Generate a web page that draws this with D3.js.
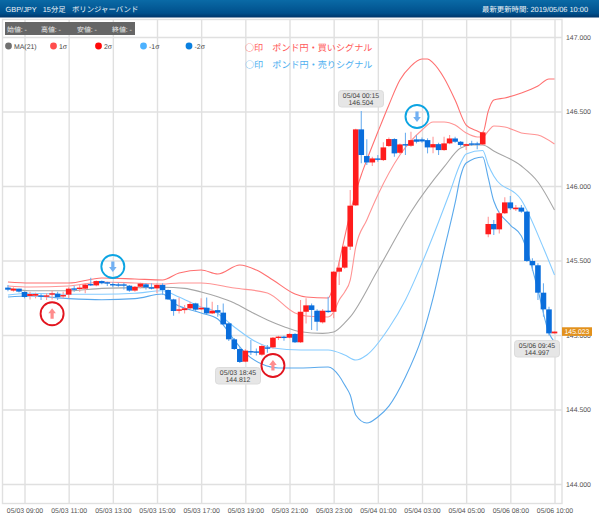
<!DOCTYPE html>
<html><head><meta charset="utf-8">
<style>html,body{margin:0;padding:0;background:#fff}svg{display:block;text-rendering:geometricPrecision}</style>
<script src="https://cdn.jsdelivr.net/npm/d3@7/dist/d3.min.js"></script>
</head><body><svg id="c" width="599" height="514"></svg>
<script>
const tickIndex=[3,11,19,27,35,43,51,59,67,75,83,91,99];
const tickLabels=["05/03 09:00","05/03 11:00","05/03 13:00","05/03 15:00","05/03 17:00","05/03 19:00","05/03 21:00","05/03 23:00","05/04 01:00","05/04 03:00","05/04 05:00","05/06 08:00","05/06 10:00"];
const priceTicks=[144,144.5,145,145.5,146,146.5,147];
const opens=[145.318,145.298,145.311,145.289,145.262,145.264,145.266,145.260,145.271,145.277,145.264,145.271,145.313,145.311,145.311,145.342,145.333,145.362,145.354,145.342,145.340,145.340,145.331,145.298,145.324,145.340,145.320,145.313,145.336,145.302,145.239,145.163,145.167,145.179,145.212,145.172,145.183,145.145,145.167,145.150,145.078,144.971,144.906,144.821,144.892,144.890,144.868,144.917,144.917,144.980,144.989,144.982,145.007,144.951,145.156,145.199,145.163,145.085,145.163,145.156,145.425,145.452,145.593,145.870,146.380,146.201,146.158,146.185,146.174,146.268,146.315,146.223,146.281,146.270,146.313,146.313,146.308,146.259,146.281,146.241,146.286,146.319,146.297,146.270,146.286,146.286,146.279,145.676,145.745,145.709,145.817,145.890,145.844,145.855,145.828,145.497,145.468,145.284,145.172,145.011];
const closes=[145.304,145.311,145.291,145.255,145.275,145.275,145.257,145.266,145.280,145.255,145.268,145.311,145.306,145.318,145.338,145.336,145.362,145.347,145.345,145.333,145.336,145.336,145.298,145.324,145.345,145.320,145.315,145.336,145.302,145.239,145.161,145.172,145.179,145.208,145.170,145.183,145.145,145.163,145.150,145.071,144.971,144.906,144.819,144.895,144.888,144.881,144.926,144.913,144.982,144.989,144.980,145.007,144.951,145.156,145.199,145.168,145.089,145.163,145.156,145.425,145.452,145.593,145.868,146.380,146.208,146.158,146.185,146.179,146.259,146.315,146.219,146.279,146.275,146.308,146.297,146.299,146.259,146.281,146.241,146.286,146.319,146.297,146.275,146.281,146.279,146.279,146.360,145.745,145.709,145.817,145.890,145.850,145.855,145.828,145.497,145.468,145.284,145.172,145.011,145.023];
const highs=[145.336,145.320,145.311,145.293,145.291,145.284,145.275,145.280,145.298,145.291,145.291,145.320,145.331,145.336,145.347,145.385,145.365,145.365,145.358,145.354,145.351,145.351,145.336,145.329,145.351,145.347,145.347,145.347,145.347,145.306,145.244,145.252,145.201,145.223,145.217,145.246,145.252,145.223,145.201,145.212,145.085,144.980,144.917,144.906,144.966,144.910,144.935,144.933,144.987,144.995,144.995,145.012,145.012,145.235,145.246,145.212,145.172,145.174,145.257,145.430,145.492,145.600,145.973,146.385,146.504,146.313,146.196,146.208,146.293,146.326,146.320,146.286,146.358,146.364,146.342,146.326,146.320,146.331,146.290,146.331,146.342,146.331,146.302,146.286,146.304,146.297,146.365,145.794,145.772,145.828,145.924,145.933,145.873,145.873,145.832,145.515,145.481,145.347,145.190,145.023];
const lows=[145.293,145.291,145.286,145.246,145.239,145.246,145.235,145.235,145.239,145.235,145.246,145.246,145.291,145.291,145.280,145.329,145.327,145.340,145.329,145.320,145.324,145.306,145.291,145.291,145.313,145.306,145.306,145.280,145.269,145.235,145.130,145.145,145.145,145.172,145.156,145.167,145.141,145.141,145.123,145.067,144.960,144.899,144.812,144.817,144.866,144.863,144.860,144.881,144.910,144.966,144.962,144.978,144.947,144.947,145.078,145.033,145.029,145.078,145.150,145.112,145.335,145.445,145.570,145.865,146.152,146.141,146.134,146.163,146.167,146.263,146.196,146.214,146.208,146.264,146.286,146.290,146.219,146.219,146.208,146.237,146.281,146.290,146.264,146.241,146.268,146.246,146.275,145.656,145.671,145.682,145.812,145.839,145.832,145.821,145.490,145.432,145.235,145.123,144.997,145.011];

const upper2Idx=[0,4,11,17,23,28,31,35,38,42,45,48,52,54,58,59,60,61,62,63,64,65,67,69,71,73,75,76,77,79,81,83,85,86,87,88,90,93,96,98,99];
const upper2=[145.356,145.349,145.349,145.383,145.376,145.369,145.416,145.436,145.409,145.470,145.436,145.369,145.275,145.255,145.248,145.336,145.490,145.658,145.819,145.960,146.074,146.174,146.362,146.544,146.711,146.805,146.852,146.852,146.826,146.725,146.577,146.409,146.369,146.356,146.503,146.577,146.591,146.624,146.671,146.718,146.718];
const upper1Idx=[0,4,11,17,23,28,31,35,41,47,52,54,58,59,60,61,62,63,65,67,71,75,77,79,81,83,85,86,87,88,90,93,96,99];
const upper1=[145.329,145.322,145.329,145.356,145.349,145.342,145.349,145.349,145.315,145.282,145.148,145.128,145.121,145.154,145.235,145.289,145.369,145.591,145.772,145.940,146.208,146.376,146.430,146.430,146.409,146.356,146.329,146.329,146.369,146.403,146.396,146.356,146.342,146.282];
const maIdx=[0,4,11,17,23,28,32,35,38,41,44,47,50,53,57,59,61,62,67,73,79,82,84,86,88,93,96,99];
const ma21=[145.313,145.297,145.297,145.313,145.317,145.320,145.313,145.289,145.257,145.215,145.156,145.101,145.056,145.022,145.011,145.020,145.081,145.121,145.436,145.826,146.128,146.255,146.275,146.275,146.235,146.134,146.027,145.839];
const lower1Idx=[0,4,11,17,23,28,31,35,37,41,45,48,53,58,61,63,65,69,72,75,78,80,82,83,86,87,88,93,97,99];
const lower1=[145.268,145.280,145.273,145.273,145.280,145.297,145.255,145.188,145.168,145.054,144.953,144.913,144.899,144.899,144.866,144.832,144.866,145.047,145.235,145.483,145.758,145.953,146.154,146.215,146.238,146.141,146.067,145.906,145.584,145.403];
const lower2Idx=[0,4,11,17,23,28,30,35,38,41,43,46,49,53,58,60,61,62,63,65,67,69,72,75,77,79,81,82,83,86,87,88,91,93,94,96,98,99];
const lower2=[145.255,145.262,145.244,145.237,145.244,145.275,145.215,145.148,145.107,144.966,144.879,144.805,144.779,144.779,144.785,144.725,144.664,144.597,144.463,144.409,144.450,144.523,144.718,144.987,145.248,145.570,145.886,146.067,146.154,146.195,146.054,145.899,145.738,145.664,145.570,145.302,145.013,144.953];

const legendNames=["MA(21)","1σ","2σ","-1σ","-2σ"];
const legendColors=["#707070","#ff4d4d","#ff0808","#4db2ff","#0a80e0"];
const statLabels=["始値: -","高値: -","安値: -","終値: -"];
const buyCandles=[8,48];
const sellCandles=[19,75];
const notes=[{i:64,t:"05/04 00:15",v:"146.504"},{i:42,t:"05/03 18:45",v:"144.812"},{i:98,t:"05/06 09:45",v:"144.997"}];
const lastPrice=145.023;

const font='"Liberation Sans",Arial,"Noto Sans CJK JP",sans-serif';
const svg=d3.select("#c").style("font-family",font);
const defs=svg.append("defs");
const gr=defs.append("linearGradient").attr("id","hd").attr("x1",0).attr("x2",0).attr("y1",0).attr("y2",1);
gr.append("stop").attr("offset",0).attr("stop-color","#0a6aa6");
gr.append("stop").attr("offset",.75).attr("stop-color","#00508c");
gr.append("stop").attr("offset",1).attr("stop-color","#003468");

const x=d3.scaleLinear().domain([3,99]).range([24.5,554.5]);
const y=d3.scaleLinear().domain([144,147]).range([484,37]);

svg.append("rect").attr("x",2.5).attr("y",19.5).attr("width",559.5).attr("height",484).attr("fill","none").attr("stroke","#e0e0e0").attr("stroke-width",1.4);

const gx=svg.append("g").attr("transform","translate(0,503)").call(
  d3.axisBottom(x).tickValues(tickIndex).tickFormat((d,i)=>tickLabels[i]).tickSize(-484).tickPadding(2));
gx.selectAll("text").attr("y",5).attr("dy","0.71em");
const gy=svg.append("g").attr("transform","translate(562,0)").call(
  d3.axisRight(y).tickValues(priceTicks).tickFormat(d3.format(".3f")).tickSize(-559.5).tickPadding(4));
[gx,gy].forEach(g=>{g.select(".domain").remove();
  g.selectAll("line").attr("stroke","#e0e0e0").attr("stroke-width",1.4);
  g.selectAll("text").attr("fill","#555").style("font-family",font).style("font-size","6.9px");});

const line=d3.line().x(d=>x(d[0])).y(d=>y(d[1])).curve(d3.curveMonotoneX);
[[lower2Idx,lower2,"#5aa9ec"],[lower1Idx,lower1,"#86ccff"],[maIdx,ma21,"#a6a6a6"],[upper1Idx,upper1,"#ff9494"],[upper2Idx,upper2,"#ff7070"]].forEach(s=>{
  svg.append("path").attr("d",line(s[0].map((k,j)=>[k,s[1][j]]))).attr("fill","none").attr("stroke",s[2]).attr("stroke-width",1.1);
});

const data=opens.map((o,i)=>({i,o,c:closes[i],h:highs[i],l:lows[i]}));
const col=d=>d.c>=d.o?"#ff1c1c":"#0a6edc";
const wick=d=>d.c>=d.o?"#ff9a9a":"#6fb0f0";
const cg=svg.append("g");
cg.selectAll("line").data(data).join("line")
  .attr("x1",d=>x(d.i)).attr("x2",d=>x(d.i)).attr("y1",d=>y(d.h)).attr("y2",d=>y(d.l))
  .attr("stroke",wick).attr("stroke-width",1.1);
cg.selectAll("rect").data(data).join("rect")
  .attr("x",d=>x(d.i)-2.8).attr("width",5.6)
  .attr("y",d=>y(Math.max(d.o,d.c))).attr("height",d=>Math.max(1.4,Math.abs(y(d.o)-y(d.c))))
  .attr("fill",col);

function ring(cx,cy,color,arrow,dir){
  const g=svg.append("g").attr("transform",`translate(${cx},${cy})`);
  g.append("circle").attr("r",11.5).attr("fill","none").attr("stroke",color).attr("stroke-width",1.9);
  const s=dir;
  g.append("path").attr("d",`M0,${-5.5*s} L${3.8},${-0.5*s} L1.6,${-0.5*s} L1.6,${5*s} L-1.6,${5*s} L-1.6,${-0.5*s} L-3.8,${-0.5*s} Z`).attr("fill",arrow);
}
ring(x(buyCandles[0]),y(145.143),"#e2141e","#ff8d8d",1);
ring(x(buyCandles[1]),y(144.795),"#e2141e","#ff8d8d",1);
ring(x(sellCandles[0]),y(145.460),"#0ca4e2","#72b0f2",-1);
ring(x(sellCandles[1])-5,y(146.466),"#0ca4e2","#72b0f2",-1);

const boxPos=[[361,90.5],[238,367.5],[537,340.5]];
notes.forEach((n,k)=>{
  const [cx,top]=boxPos[k];
  const g=svg.append("g");
  g.append("rect").attr("x",cx-22.5).attr("y",top).attr("width",45).attr("height",16.5).attr("rx",3).attr("fill","#e6e6e6").attr("stroke","#dcdcdc");
  g.append("text").attr("x",cx).attr("y",top+7).attr("text-anchor","middle").attr("font-size","6.9px").attr("fill","#444").text(n.t);
  g.append("text").attr("x",cx).attr("y",top+14.5).attr("text-anchor","middle").attr("font-size","6.9px").attr("fill","#444").text(n.v);
});

svg.append("rect").attr("x",562).attr("y",y(lastPrice)-4.3).attr("width",30).attr("height",8.6).attr("fill","#e2911c");
svg.append("text").attr("x",577).attr("y",y(lastPrice)+2.5).attr("text-anchor","middle").attr("font-size","6.9px").attr("fill","#fff").text(d3.format(".3f")(lastPrice));

svg.append("rect").attr("width",599).attr("height",17.5).attr("fill","url(#hd)");
svg.append("text").attr("x",5.5).attr("y",11.5).attr("font-size","7.4px").attr("fill","#eef3f7").style("white-space","pre").text("GBP/JPY   15分足   ボリンジャーバンド");
svg.append("text").attr("x",588).attr("y",11.5).attr("text-anchor","end").attr("font-size","7.4px").attr("fill","#eef3f7").text("最新更新時間: 2019/05/06 10:00");

svg.append("rect").attr("x",5).attr("y",22).attr("width",130).attr("height",13).attr("fill","#666");
[7,41,77,112].forEach((px,i)=>svg.append("text").attr("x",px).attr("y",31.5).attr("font-size","6.9px").attr("fill","#eee").text(statLabels[i]));

[8.5,53.5,98.5,143.5,189].forEach((px,i)=>{
  svg.append("circle").attr("cx",px).attr("cy",46).attr("r",3.4).attr("fill",legendColors[i]);
  svg.append("text").attr("x",px+5.5).attr("y",48.5).attr("font-size","6.9px").attr("fill","#444").text(legendNames[i]);
});
svg.append("text").attr("x",245).attr("y",50.5).attr("font-size","9.1px").attr("fill","#ff5a5a").style("font-family",'"Noto Sans CJK JP"').text("○印　ポンド円・買いシグナル");
svg.append("text").attr("x",245).attr("y",68).attr("font-size","9.1px").attr("fill","#4fb0f0").style("font-family",'"Noto Sans CJK JP"').text("○印　ポンド円・売りシグナル");
</script></body></html>
